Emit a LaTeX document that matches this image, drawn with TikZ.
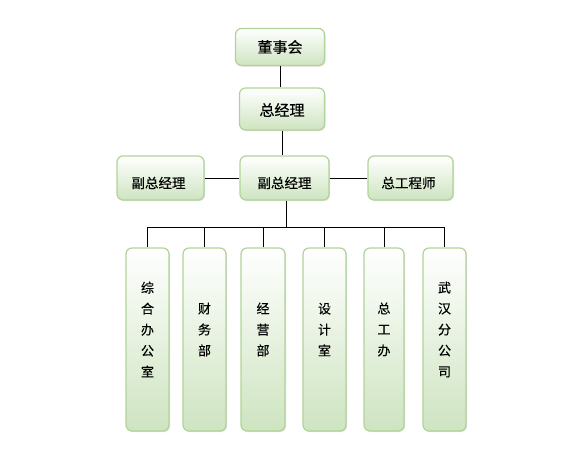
\documentclass[tikz,border=0pt]{standalone}
\usepackage{fontspec}
\newfontfamily\cjk[FakeBold=0.3]{Noto Sans CJK SC}
\usetikzlibrary{shadows}
\definecolor{bordergreen}{RGB}{176,212,152}
\definecolor{fillgreen}{RGB}{206,228,192}
\begin{document}
\begin{tikzpicture}[x=1pt,y=-1pt,
  box/.style={draw=bordergreen, line width=1.2pt, rounded corners=6pt,
    top color=white, bottom color=fillgreen, inner sep=0pt,
    drop shadow={shadow xshift=1pt, shadow yshift=-1pt, opacity=0.25, fill=gray}},
  conn/.style={draw=black, line width=0.8pt},
  vtext/.style={font=\cjk\fontsize{13}{21}\selectfont, align=center, inner sep=0pt},
  htext/.style={font=\cjk\fontsize{13.5}{16}\selectfont, inner sep=0pt}]
\useasboundingbox (0,0) rectangle (571,466);
% top boxes
\node[box, minimum width=89pt, minimum height=37pt] (dsh) at (280,47) {};
\node[font=\cjk\fontsize{15}{18}\selectfont] at (dsh.center) {董事会};
\node[box, minimum width=85pt, minimum height=42pt] (zjl) at (282,109) {};
\node[font=\cjk\fontsize{15}{18}\selectfont] at ([yshift=-1pt]zjl.center) {总经理};
% second row
\node[box, minimum width=87pt, minimum height=44pt] (fl) at (160.5,178) {};
\node[htext] at ([xshift=-2pt,yshift=-5pt]fl.center) {副总经理};
\node[box, minimum width=89pt, minimum height=44pt] (fc) at (284.5,178) {};
\node[htext] at ([yshift=-5pt]fc.center) {副总经理};
\node[box, minimum width=85pt, minimum height=44pt] (fr) at (410.5,178) {};
\node[htext] at ([xshift=-2pt,yshift=-5pt]fr.center) {总工程师};
% bottom row
\node[box, minimum width=43pt, minimum height=183pt] (b1) at (147.5,339.5) {};
\node[box, minimum width=43pt, minimum height=183pt] (b2) at (204.5,339.5) {};
\node[box, minimum width=44pt, minimum height=183pt] (b3) at (263,339.5) {};
\node[box, minimum width=43pt, minimum height=183pt] (b4) at (324.5,339.5) {};
\node[box, minimum width=40pt, minimum height=183pt] (b5) at (384,339.5) {};
\node[box, minimum width=43pt, minimum height=183pt] (b6) at (444.5,339.5) {};
\node[vtext] at ([yshift=10pt]b1.center) {综\\合\\办\\公\\室};
\node[vtext] at ([yshift=10pt]b2.center) {财\\务\\部};
\node[vtext] at ([yshift=10pt]b3.center) {经\\营\\部};
\node[vtext] at ([yshift=10pt]b4.center) {设\\计\\室};
\node[vtext] at ([yshift=10pt]b5.center) {总\\工\\办};
\node[vtext] at ([yshift=10pt]b6.center) {武\\汉\\分\\公\\司};
% connectors
\draw[conn] (dsh.south) -- (dsh.south |- zjl.north);
\draw[conn] (zjl.south) -- (zjl.south |- fc.north);
\draw[conn] (fl.east) -- (fc.west);
\draw[conn] (fc.east) -- (fr.west);
\coordinate (bus) at (286,227);
\draw[conn] (bus |- fc.south) -- (bus);
\foreach \b in {b1,b2,b3,b4,b5,b6} \draw[conn] (bus) -| (\b.north);
\end{tikzpicture}
\end{document}
